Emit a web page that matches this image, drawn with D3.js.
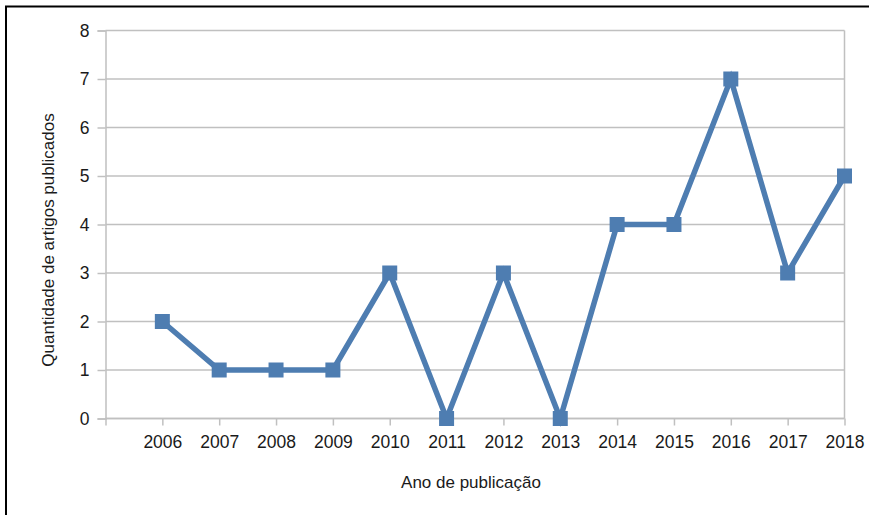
<!DOCTYPE html>
<html><head><meta charset="utf-8">
<script src="https://cdn.jsdelivr.net/npm/d3@7"></script>
<style>
html,body{margin:0;padding:0;background:#fff;}
svg{display:block;}
text{font-family:"Liberation Sans",Arial,sans-serif;fill:#1a1a1a;}
</style></head>
<body>
<script>
const years = ["2006","2007","2008","2009","2010","2011","2012","2013","2014","2015","2016","2017","2018"];
const counts = [2,1,1,1,3,0,3,0,4,4,7,3,5];
const yTicks = [0,1,2,3,4,5,6,7,8];
const xTitle = "Ano de publicação";
const yTitle = "Quantidade de artigos publicados";

(function () {
const W = 869, H = 515;
const svg = d3.select("body").append("svg").attr("width", W).attr("height", H);

// frame
svg.append("rect").attr("x", 6).attr("y", 6.5).attr("width", W + 20).attr("height", H + 20)
  .attr("fill", "none").attr("stroke", "#000").attr("stroke-width", 2);

const pL = 105.5, pR = 844.5, pT = 30.5, pB = 418.5;
const x = d3.scalePoint().domain([""].concat(years)).range([pL, pR]);
const y = d3.scaleLinear().domain([0, 8]).range([pB, pT]);
const grid = "#c0c0c0";

// gridlines
svg.append("g").selectAll("line").data(yTicks).join("line")
  .attr("x1", pL).attr("x2", pR).attr("y1", d => y(d)).attr("y2", d => y(d))
  .attr("stroke", grid).attr("stroke-width", 1.5);
svg.append("line").attr("x1", pR).attr("x2", pR).attr("y1", pT).attr("y2", pB)
  .attr("stroke", grid).attr("stroke-width", 1.5);

// y axis
const ya = svg.append("g").attr("transform", `translate(${pL},0)`)
  .call(d3.axisLeft(y).tickValues(yTicks).tickSize(8).tickPadding(8).tickFormat(d3.format("d")));
ya.select(".domain").attr("stroke", grid).attr("stroke-width", 1.5);
ya.selectAll(".tick line").attr("stroke", grid).attr("stroke-width", 1.5);
ya.selectAll("text").style("font-size", "17.5px").attr("fill", "#1a1a1a");

// x axis
const xa = svg.append("g").attr("transform", `translate(0,${pB})`)
  .call(d3.axisBottom(x).tickSize(7).tickPadding(10));
xa.select(".domain").remove();
xa.append("line").attr("x1", pL).attr("x2", pR).attr("stroke", grid).attr("stroke-width", 1.5);
xa.selectAll(".tick line").attr("stroke", grid).attr("stroke-width", 1.5);
xa.selectAll("text").style("font-size", "17.5px").attr("fill", "#1a1a1a");

// series
const data = years.map((yr, i) => ({yr, v: counts[i]}));
const color = "#4e7db1";
svg.append("path").datum(data)
  .attr("d", d3.line().x(d => x(d.yr)).y(d => y(d.v)))
  .attr("fill", "none").attr("stroke", color).attr("stroke-width", 5.5).attr("stroke-linejoin", "miter");
const ms = 15;
svg.append("g").selectAll("rect").data(data).join("rect")
  .attr("x", d => x(d.yr) - ms / 2).attr("y", d => y(d.v) - ms / 2)
  .attr("width", ms).attr("height", ms).attr("fill", color);

// titles
svg.append("text").attr("x", 471).attr("y", 488).attr("text-anchor", "middle")
  .style("font-size", "17px").text(xTitle);
svg.append("text").attr("transform", "translate(54,240) rotate(-90)").attr("text-anchor", "middle")
  .style("font-size", "17px").text(yTitle);
})();
</script>
</body></html>
